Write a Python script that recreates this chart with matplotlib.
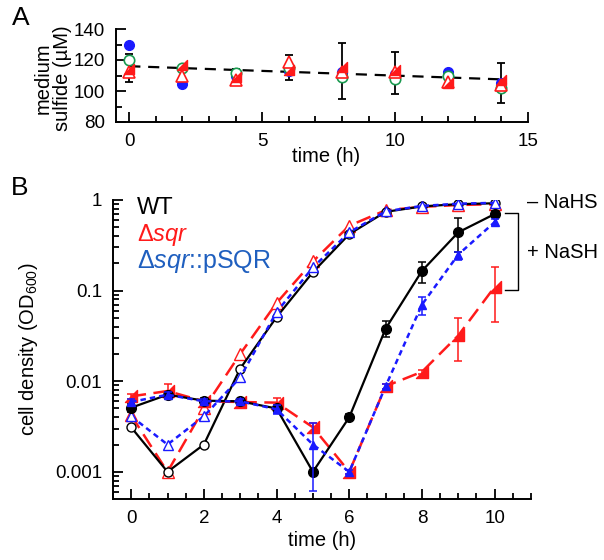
import numpy as np
import matplotlib
matplotlib.use("Agg")
import matplotlib.pyplot as plt
from matplotlib.ticker import MultipleLocator, LogLocator, NullFormatter, FixedLocator, FixedFormatter
from matplotlib.path import Path

plt.rcParams['font.family'] = ['Liberation Sans', 'DejaVu Sans']
plt.rcParams['mathtext.fontset'] = 'custom'
plt.rcParams['mathtext.rm'] = 'Liberation Sans'
plt.rcParams['mathtext.it'] = 'Liberation Sans:italic'

# ---------------- Panel A data ----------------
tA = [0, 2, 4, 6, 8, 10, 12, 14]
A_blue = [130, 104.5, 110, 113, 112, 111, 112, 105]
A_green = [120, 115, 111.5, 115, 109, 108, 110, 102]
A_red_filled = [114, 117, 109, 113.5, 115.5, 113.5, 105, 107]
A_red_open = [112, 110, 107, 119, 112, 112, 106, 104]
A_err_t = [0, 4, 6, 8, 10, 14]
A_err_lo = [106, 108, 107, 95, 98, 92]
A_err_hi = [124, 114, 123, 131, 125, 118]
A_fit_t = [0, 14]
A_fit_v = [116, 107.5]

# ---------------- Panel B data ----------------
tB = [0, 1, 2, 3, 4, 5, 6, 7, 8, 9, 10]
wt_minus = [0.0031, 0.001, 0.002, 0.0138, 0.051, 0.16, 0.42, 0.74, 0.85, 0.90, 0.92]
sqr_minus = [0.0042, 0.001, 0.005, 0.020, 0.073, 0.21, 0.52, 0.77, 0.84, 0.88, 0.90]
psqr_minus = [0.0041, 0.002, 0.0041, 0.011, 0.058, 0.18, 0.44, 0.75, 0.86, 0.91, 0.93]
wt_plus = [0.0051, 0.0071, 0.0061, 0.0060, 0.0050, 0.0010, 0.0040, 0.038, 0.165, 0.44, 0.70]
sqr_plus = [0.0068, 0.0078, 0.0060, 0.0059, 0.0058, 0.0031, 0.0010, 0.0088, 0.0127, 0.032, 0.11]
psqr_plus = [0.0059, 0.0071, 0.0060, 0.0060, 0.0049, 0.0020, 0.0010, 0.0088, 0.070, 0.25, 0.57]
wt_plus_lo = [0.0046, 0.0066, 0.0057, 0.0056, 0.0046, 0.00095, 0.0037, 0.031, 0.12, 0.27, 0.65]
wt_plus_hi = [0.0056, 0.0076, 0.0065, 0.0064, 0.0054, 0.00105, 0.0043, 0.046, 0.207, 0.63, 0.75]
sqr_plus_lo = [0.0063, 0.0068, 0.0056, 0.0055, 0.0053, 0.0027, 0.00095, 0.0083, 0.0120, 0.0168, 0.045]
sqr_plus_hi = [0.0073, 0.0092, 0.0064, 0.0063, 0.0066, 0.0035, 0.00105, 0.0093, 0.0134, 0.050, 0.18]
psqr_plus_lo = [0.0055, 0.0066, 0.0057, 0.0056, 0.0044, 0.00061, 0.00095, 0.0083, 0.054, 0.22, 0.53]
psqr_plus_hi = [0.0063, 0.0076, 0.0063, 0.0064, 0.0054, 0.0035, 0.00105, 0.0093, 0.085, 0.27, 0.61]

RED = '#ff1a1a'
BLUE = '#1a1aff'
BLUE_TXT = '#1f5fbf'
GREEN = '#1a9a50'

# right-angle triangle marker (like the reference's filled red symbols)
rtri = Path([(-1, -1), (1, -1), (1, 1), (-1, -1)], [Path.MOVETO, Path.LINETO, Path.LINETO, Path.CLOSEPOLY])

fig = plt.figure(figsize=(6.04, 5.6), dpi=100)

def style_axes(ax):
    ax.spines['top'].set_visible(False)
    ax.spines['right'].set_visible(False)
    for s in ('left', 'bottom'):
        ax.spines[s].set_linewidth(1.4)
    ax.tick_params(which='both', direction='in', width=1.3, labelsize=13.5, pad=8)
    ax.tick_params(which='major', length=7)
    ax.tick_params(which='minor', length=4)

# ---------------- Panel A ----------------
axA = fig.add_axes([116/604, 1-122/560, 412/604, 93/560])
style_axes(axA)
axA.plot(A_fit_t, A_fit_v, ls=(0, (5, 3.5)), color='black', lw=1.6, zorder=1)
cen = (np.array(A_err_hi) + np.array(A_err_lo)) / 2
axA.errorbar(A_err_t, cen, yerr=(np.array(A_err_hi) - np.array(A_err_lo)) / 2, fmt='none',
             ecolor='black', elinewidth=1.3, capsize=3, capthick=1.3, zorder=2)
axA.plot(tA, A_blue, 'o', color=BLUE, ms=7, ls='none', zorder=3)
axA.plot(tA, A_green, 'o', mfc='white', mec=GREEN, mew=1.2, ms=7.5, ls='none', zorder=4)
axA.plot(tA, A_red_open, marker='^', mfc='white', mec=RED, mew=1.2, ms=8, ls='none', zorder=5)
axA.plot(tA, A_red_filled, marker=rtri, color=RED, ms=7.5, ls='none', zorder=6)
axA.set_xlim(-0.5, 15)
axA.set_ylim(80, 140)
axA.xaxis.set_major_locator(MultipleLocator(5))
axA.xaxis.set_minor_locator(MultipleLocator(1))
axA.yaxis.set_major_locator(MultipleLocator(20))
axA.yaxis.set_minor_locator(MultipleLocator(10))
axA.set_xlabel('time (h)', fontsize=14.5)
axA.set_ylabel('medium\nsulfide (µM)', fontsize=14.5, linespacing=1.0)
axA.yaxis.set_label_coords(-0.108, 0.47)
axA.xaxis.set_label_coords(0.51, -0.27)

# ---------------- Panel B ----------------
axB = fig.add_axes([113/604, 1-499/560, 418/604, 299/560])
style_axes(axB)
axB.set_yscale('log')
axB.set_xlim(-0.5, 11)
axB.set_ylim(10**-3.3, 1)

# minus NaHS (open)
axB.plot(tB, sqr_minus, color=RED, ls=(0, (6, 3)), lw=1.8, marker='^', mfc='white', mec=RED,
         mew=1.0, ms=8, zorder=3)
axB.plot(tB, wt_minus, color='black', ls='-', lw=1.6, marker='o', mfc='white', mec='black',
         mew=1.0, ms=6.5, zorder=4)
axB.plot(tB, psqr_minus, color=BLUE, ls=(0, (2.2, 1.6)), lw=1.8, marker='^', mfc='white', mec=BLUE,
         mew=1.0, ms=7.5, zorder=5)

def eb(y, lo, hi):
    y = np.array(y); lo = np.array(lo); hi = np.array(hi)
    return [y - lo, hi - y]

# plus NaSH (filled)
axB.errorbar(tB, sqr_plus, yerr=eb(sqr_plus, sqr_plus_lo, sqr_plus_hi), color=RED,
             ls=(0, (6, 3)), lw=1.8, marker=rtri, ms=8, ecolor=RED, elinewidth=1.1,
             capsize=3, capthick=1.1, zorder=6)
axB.errorbar(tB, wt_plus, yerr=eb(wt_plus, wt_plus_lo, wt_plus_hi), color='black',
             ls='-', lw=1.6, marker='o', ms=7, ecolor='black', elinewidth=1.1,
             capsize=3, capthick=1.1, zorder=7)
axB.errorbar(tB, psqr_plus, yerr=eb(psqr_plus, psqr_plus_lo, psqr_plus_hi), color=BLUE,
             ls=(0, (2.2, 1.6)), lw=1.8, marker='^', ms=6, ecolor=BLUE, elinewidth=1.1,
             capsize=3, capthick=1.1, zorder=8)

axB.xaxis.set_major_locator(MultipleLocator(2))
axB.xaxis.set_minor_locator(MultipleLocator(0.5))
axB.yaxis.set_major_locator(FixedLocator([0.001, 0.01, 0.1, 1]))
axB.yaxis.set_major_formatter(FixedFormatter(['0.001', '0.01', '0.1', '1']))
axB.yaxis.set_minor_locator(LogLocator(base=10, subs=np.arange(2, 10), numticks=20))
axB.yaxis.set_minor_formatter(NullFormatter())
axB.set_xlabel('time (h)', fontsize=14.5, labelpad=3)
axB.set_ylabel('cell density (OD$_{600}$)', fontsize=14.5)
axB.yaxis.set_label_coords(-0.175, 0.5)

# in-plot legend text
axB.text(0.057, 0.973, 'WT', transform=axB.transAxes, fontsize=17, color='black', va='center', ha='left')
axB.text(0.057, 0.883, r'Δ$\mathit{sqr}$', transform=axB.transAxes, fontsize=17, color=RED,
         va='center', ha='left')
axB.text(0.057, 0.793, r'Δ$\mathit{sqr}$::pSQR', transform=axB.transAxes, fontsize=18, color=BLUE_TXT,
         va='center', ha='left')

# condition labels and bracket
axB.text(0.99, 0.993, '– NaHS', transform=axB.transAxes, fontsize=14.5, va='center', ha='left',
         clip_on=False)
axB.text(0.99, 0.826, '+ NaSH', transform=axB.transAxes, fontsize=14.5, va='center', ha='left',
         clip_on=False)
axB.plot([0.938, 0.969, 0.969, 0.938], [0.957, 0.957, 0.699, 0.699], transform=axB.transAxes,
         color='black', lw=1.0, clip_on=False)

# panel letters
fig.text(12/604, 1-18/560, 'A', fontsize=19, va='center', ha='left')
fig.text(11/604, 1-188/560, 'B', fontsize=19, va='center', ha='left')

fig.savefig('out.png', dpi=100)
